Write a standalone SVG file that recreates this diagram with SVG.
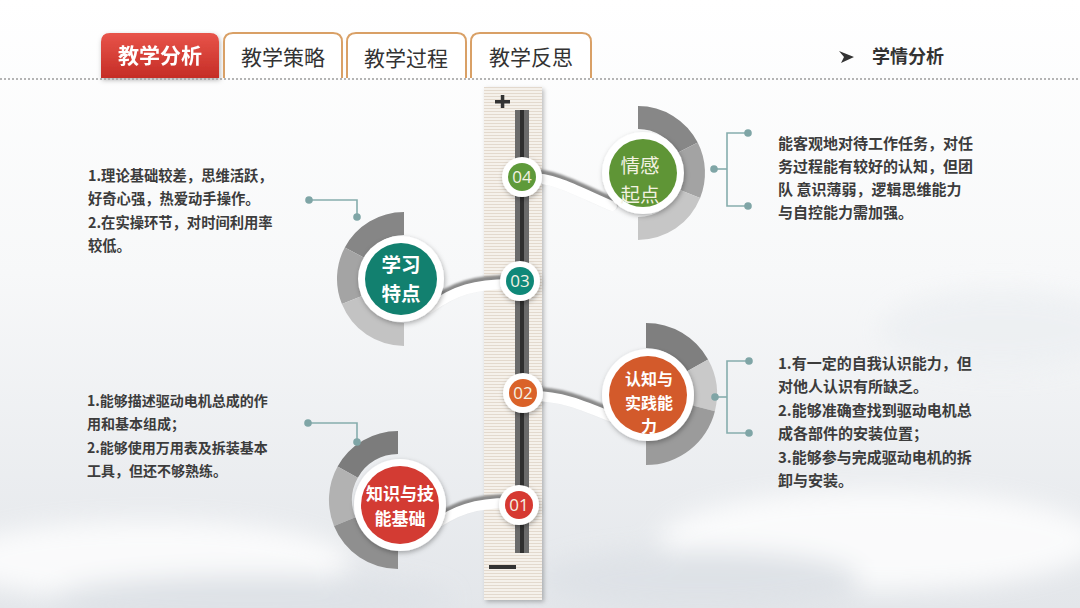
<svg xmlns="http://www.w3.org/2000/svg" width="1080" height="608" viewBox="0 0 1080 608">
<defs>
<linearGradient id="bg" x1="0" y1="0" x2="0" y2="1">
<stop offset="0" stop-color="#ffffff"/>
<stop offset="0.45" stop-color="#f7f8f9"/>
<stop offset="1" stop-color="#e3e6ea"/>
</linearGradient>
<linearGradient id="tabRed" x1="0" y1="0" x2="0" y2="1">
<stop offset="0" stop-color="#e8544a"/>
<stop offset="1" stop-color="#c52d26"/>
</linearGradient>
<pattern id="stripes" width="4" height="3" patternUnits="userSpaceOnUse">
<rect width="4" height="3" fill="#f5f1eb"/>
<rect width="4" height="1" fill="#e3d9cd"/>
</pattern>
<filter id="sh" x="-30%" y="-30%" width="160%" height="160%">
<feDropShadow dx="1" dy="2" stdDeviation="2.5" flood-color="#000" flood-opacity="0.3"/>
</filter>
<filter id="sh2" x="-10%" y="-5%" width="130%" height="110%">
<feDropShadow dx="2" dy="2" stdDeviation="2" flood-color="#000" flood-opacity="0.25"/>
</filter>
<filter id="blur1"><feGaussianBlur stdDeviation="1"/></filter>
<filter id="blur8"><feGaussianBlur stdDeviation="12"/></filter>
<style>
.tabt{font-family:"Noto Sans CJK SC","Noto Sans",sans-serif;font-size:21px;fill:#333;text-anchor:middle}
.body{font-family:"Noto Sans CJK SC","Noto Sans",sans-serif;font-weight:bold;fill:#3c3c3c}
.big{font-family:"Noto Sans CJK SC","Noto Sans",sans-serif;font-weight:bold;fill:#ffffff;text-anchor:middle}
.num{font-family:"Open Sans","Noto Sans",sans-serif;font-size:17px;fill:#f4f2e4;text-anchor:middle}
.br{fill:none;stroke:#86adad;stroke-width:1.6}
.dot{fill:#7fa5a6}
.conS{fill:none;stroke:#8a8a8a;stroke-width:12;stroke-linecap:round}
.conW{fill:none;stroke:#ffffff;stroke-width:10;stroke-linecap:round}
.wc{fill:#ffffff}
</style>
</defs>

<!-- background -->
<rect width="1080" height="608" fill="url(#bg)"/>
<g filter="url(#blur8)" opacity="0.8">
<ellipse cx="150" cy="560" rx="200" ry="40" fill="#ffffff"/>
<ellipse cx="880" cy="540" rx="220" ry="50" fill="#ffffff"/>
<ellipse cx="1000" cy="330" rx="120" ry="40" fill="#eceff2"/>
<ellipse cx="700" cy="580" rx="160" ry="30" fill="#dde1e6"/>
<ellipse cx="250" cy="600" rx="200" ry="25" fill="#dde1e6"/>
</g>

<!-- tabs -->
<g id="tab1" filter="url(#sh)">
<path d="M101,78 L101,42 Q101,33 110,33 L210,33 Q219,33 219,42 L219,78 Z" fill="url(#tabRed)"/>
<text x="160" y="63" class="tabt" style="fill:#ffffff;font-weight:bold">教学分析</text>
</g>
<g id="tab2">
<path d="M224,78 L224,42 Q224,33 233,33 L333,33 Q342,33 342,42 L342,78" fill="#ffffff" stroke="#d9a066" stroke-width="2"/>
<text x="283" y="65" class="tabt">教学策略</text>
</g>
<g id="tab3">
<path d="M347,78 L347,42 Q347,33 356,33 L457,33 Q466,33 466,42 L466,78" fill="#ffffff" stroke="#d9a066" stroke-width="2"/>
<text x="406" y="66" class="tabt">教学过程</text>
</g>
<g id="tab4">
<path d="M471,78 L471,42 Q471,33 480,33 L582,33 Q591,33 591,42 L591,78" fill="#ffffff" stroke="#d9a066" stroke-width="2"/>
<text x="531" y="65" class="tabt">教学反思</text>
</g>
<line x1="0" y1="79" x2="1080" y2="79" stroke="#9c9c9c" stroke-width="1.5" stroke-dasharray="2 2"/>

<g id="title">
<path d="M839,51 L854,57 L841,63 L844,57 Z" fill="#333"/>
<text x="872" y="63" class="body" style="font-size:18px;fill:#333">学情分析</text>
</g>

<!-- slider -->
<g id="slider">
<rect x="484" y="87" width="58" height="513" fill="url(#stripes)" filter="url(#sh2)"/>
<rect x="515" y="110" width="14" height="443" fill="#6b6b6b"/>
<rect x="520" y="110" width="4" height="443" fill="#2f2f2f"/>
<rect x="495" y="100" width="15" height="3.5" fill="#333"/>
<rect x="500.8" y="95" width="3.5" height="13" fill="#333"/>
<rect x="489" y="565" width="27" height="4" fill="#333"/>
</g>

<!-- rings -->
<g id="ring4">
<path d="M638,106 A67,67 0 0 1 697.7,142.6 L677.2,153 A44,44 0 0 0 638,129 Z" fill="#878787"/>
<path d="M697.7,142.6 A67,67 0 0 1 700.1,198.1 L678.8,189.5 A44,44 0 0 0 677.2,153 Z" fill="#a3a3a3"/>
<path d="M700.1,198.1 A67,67 0 0 1 638,240 L638,217 A44,44 0 0 0 678.8,189.5 Z" fill="#c6c6c6"/>
</g>
<g id="ring3">
<path d="M404,212 A67,67 0 0 0 344.8,247.5 L365.2,258.3 A44,44 0 0 1 404,235 Z" fill="#868686"/>
<path d="M344.8,247.5 A67,67 0 0 0 341.9,304.1 L363.2,295.5 A44,44 0 0 1 365.2,258.3 Z" fill="#a4a4a4"/>
<path d="M341.9,304.1 A67,67 0 0 0 404,346 L404,323 A44,44 0 0 1 363.2,295.5 Z" fill="#c3c3c3"/>
</g>
<g id="ring2">
<path d="M646,323 A71,71 0 0 1 708.1,359.6 L686.2,371.7 A46,46 0 0 0 646,348 Z" fill="#7f7f7f"/>
<path d="M708.1,359.6 A71,71 0 0 1 714.9,411.2 L690.6,405.1 A46,46 0 0 0 686.2,371.7 Z" fill="#c9c9c9"/>
<path d="M714.9,411.2 A71,71 0 0 1 646,465 L646,440 A46,46 0 0 0 690.6,405.1 Z" fill="#9b9b9b"/>
</g>
<g id="ring1">
<path d="M398,431 A69,69 0 0 0 337.6,466.5 L357.8,477.7 A46,46 0 0 1 398,454 Z" fill="#7c7c7c"/>
<path d="M337.6,466.5 A69,69 0 0 0 334,525.9 L355.4,517.2 A46,46 0 0 1 357.8,477.7 Z" fill="#b2b2b2"/>
<path d="M334,525.9 A69,69 0 0 0 398,569 L398,546 A46,46 0 0 1 355.4,517.2 Z" fill="#8f8f8f"/>
</g>

<!-- connectors -->
<g id="connectors">
<g filter="url(#blur1)">
<path class="conS" d="M530,175 C555,175 575,187 612,203"/>
<path class="conS" d="M430,305 C455,287 475,281 512,281"/>
<path class="conS" d="M532,393 C560,393 580,401 614,415"/>
<path class="conS" d="M430,525 C455,507 475,500 510,500"/>
</g>
<path class="conW" d="M530,178 C555,178 575,190 612,206"/>
<path class="conW" d="M430,308 C455,290 475,284 512,284"/>
<path class="conW" d="M532,396 C560,396 580,404 614,418"/>
<path class="conW" d="M430,528 C455,510 475,503 510,503"/>
</g>

<!-- brackets -->
<g id="bracket-tl">
<polyline class="br" points="309,200 357,200 357,217"/>
<circle class="dot" cx="309" cy="200" r="3.8"/>
<circle class="dot" cx="357" cy="217" r="3.8"/>
</g>
<g id="bracket-tr">
<polyline class="br" points="714,169 727,169"/>
<polyline class="br" points="748,133 727,133 727,206 748,206"/>
<circle class="dot" cx="714" cy="169" r="3.8"/>
<circle class="dot" cx="748" cy="133" r="3.8"/>
<circle class="dot" cx="748" cy="206" r="3.8"/>
</g>
<g id="bracket-br">
<polyline class="br" points="715,397 727,397"/>
<polyline class="br" points="749,361 727,361 727,433 749,433"/>
<circle class="dot" cx="715" cy="397" r="3.8"/>
<circle class="dot" cx="749" cy="361" r="3.8"/>
<circle class="dot" cx="749" cy="433" r="3.8"/>
</g>
<g id="bracket-bl">
<polyline class="br" points="308,423 357,423 357,442"/>
<circle class="dot" cx="308" cy="423" r="3.8"/>
<circle class="dot" cx="357" cy="442" r="3.8"/>
</g>

<!-- big nodes -->
<g id="node-qinggan">
<circle class="wc" cx="643" cy="173" r="41" filter="url(#sh)"/>
<circle cx="643" cy="173" r="34" fill="#5f9536"/>
<text class="big" style="font-size:19.5px;font-weight:normal;fill:#f3f2e2"><tspan x="640" y="173">情感</tspan><tspan x="640" y="201.5">起点</tspan></text>
</g>
<g id="node-xuexi">
<circle class="wc" cx="401" cy="279" r="43" filter="url(#sh)"/>
<circle cx="401" cy="279" r="36" fill="#12806f"/>
<text class="big" style="font-size:19.5px"><tspan x="401" y="272">学习</tspan><tspan x="401" y="300.5">特点</tspan></text>
</g>
<g id="node-renzhi">
<circle class="wc" cx="648" cy="395" r="46" filter="url(#sh)"/>
<circle cx="648" cy="395" r="39" fill="#d35a2b"/>
<text class="big" style="font-size:16px"><tspan x="649" y="385">认知与</tspan><tspan x="649" y="408.5">实践能</tspan><tspan x="649" y="432">力</tspan></text>
</g>
<g id="node-zhishi">
<circle class="wc" cx="400" cy="505" r="46" filter="url(#sh)"/>
<circle cx="400" cy="505" r="39" fill="#d33b33"/>
<text class="big" style="font-size:17px"><tspan x="400" y="500">知识与技</tspan><tspan x="400" y="525">能基础</tspan></text>
</g>

<!-- small nodes -->
<g id="n04">
<circle class="wc" cx="522" cy="177" r="20" filter="url(#sh)"/>
<circle cx="522" cy="177" r="14" fill="#5e9a3a"/>
<text class="num" x="522" y="183">04</text>
</g>
<g id="n03">
<circle class="wc" cx="520" cy="281" r="20" filter="url(#sh)"/>
<circle cx="520" cy="281" r="14" fill="#0f8878"/>
<text class="num" x="520" y="287">03</text>
</g>
<g id="n02">
<circle class="wc" cx="523" cy="393" r="20" filter="url(#sh)"/>
<circle cx="523" cy="393" r="14" fill="#da6229"/>
<text class="num" x="523" y="399">02</text>
</g>
<g id="n01">
<circle class="wc" cx="519" cy="505" r="20" filter="url(#sh)"/>
<circle cx="519" cy="505" r="14" fill="#d63931"/>
<text class="num" x="519" y="511">01</text>
</g>

<!-- text blocks -->
<g id="text-tl" class="body" style="font-size:14.3px">
<text x="88" y="180.5">1.理论基础较差，思维活跃，</text>
<text x="88" y="204">好奇心强，热爱动手操作。</text>
<text x="88" y="227.5">2.在实操环节，对时间利用率</text>
<text x="88" y="251">较低。</text>
</g>
<g id="text-bl" class="body" style="font-size:14px">
<text x="87" y="405.5">1.能够描述驱动电机总成的作</text>
<text x="87" y="429">用和基本组成；</text>
<text x="87" y="452.5">2.能够使用万用表及拆装基本</text>
<text x="87" y="476">工具，但还不够熟练。</text>
</g>
<g id="text-tr" class="body" style="font-size:15px">
<text x="778" y="148.5">能客观地对待工作任务，对任</text>
<text x="778" y="172">务过程能有较好的认知，但团</text>
<text x="778" y="195">队 意识薄弱，逻辑思维能力</text>
<text x="778" y="218">与自控能力需加强。</text>
</g>
<g id="text-br" class="body" style="font-size:15px">
<text x="778" y="368.5">1.有一定的自我认识能力，但</text>
<text x="778" y="392">对他人认识有所缺乏。</text>
<text x="778" y="415.5">2.能够准确查找到驱动电机总</text>
<text x="778" y="439">成各部件的安装位置；</text>
<text x="778" y="462.5">3.能够参与完成驱动电机的拆</text>
<text x="778" y="486">卸与安装。</text>
</g>
</svg>
